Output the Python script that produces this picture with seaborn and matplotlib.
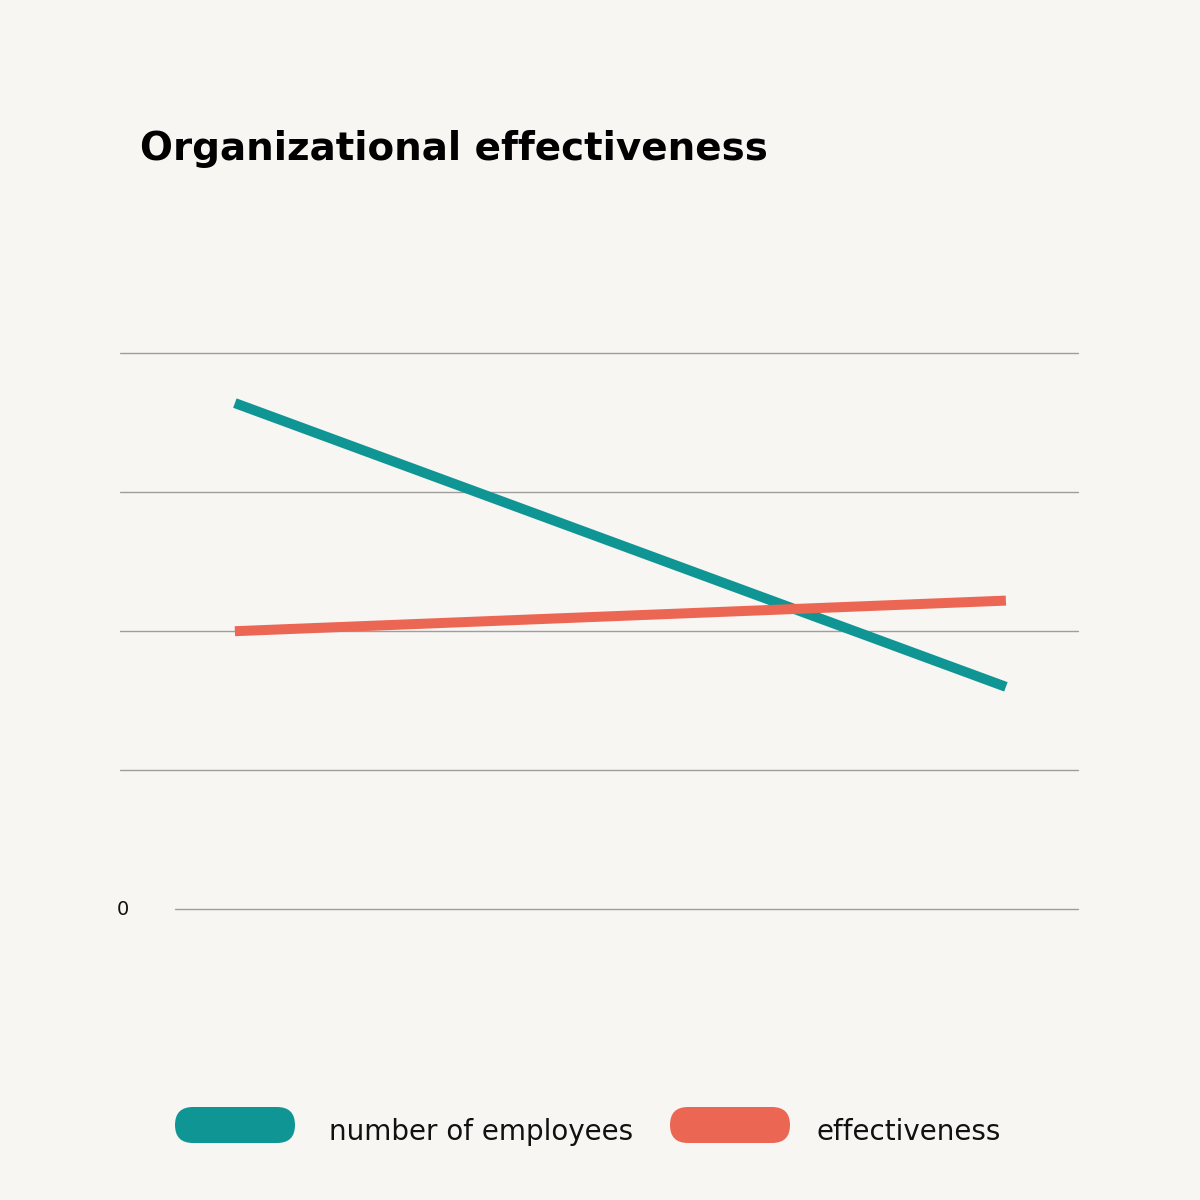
import pandas as pd
import matplotlib.pyplot as plt
import seaborn as sns
from matplotlib.patches import FancyBboxPatch
import matplotlib.transforms as mtransforms

# data
periods = [0, 1]
employees = [3.64, 1.60]
effectiveness = [2.0, 2.22]
series_names = ['number of employees', 'effectiveness']
series_colors = ['#0e9594', '#ec6654']
grid_values = [0, 1, 2, 3, 4]

bg = '#f7f6f3'

df = pd.DataFrame({
    'period': periods * 2,
    'value': employees + effectiveness,
    'series': [series_names[0]] * 2 + [series_names[1]] * 2,
})

sns.set_style('white')
plt.rcParams['font.family'] = ['DejaVu Sans']

fig = plt.figure(figsize=(12, 12), dpi=100, facecolor=bg)
ax = fig.add_axes([0.1, 0.219, 0.798, 0.51])
ax.set_facecolor(bg)

# horizontal guide lines
for v in grid_values:
    xmin = (175 - 120) / 958 if v == 0 else 0
    ax.axhline(v, xmin=xmin, xmax=1, color='#9e9e9e', lw=1, zorder=0, clip_on=False)

sns.lineplot(data=df, x='period', y='value', hue='series', palette=series_colors,
             hue_order=series_names, lw=7.2, legend=False, ax=ax)
for line in ax.lines[len(grid_values):]:
    line.set_solid_capstyle('butt')
    line.set_clip_on(False)

ax.set_xlim(-0.149, 1.093)
ax.set_ylim(-0.2, 4.2)
ax.set_xticks([])
ax.set_yticks([])
ax.set_xlabel('')
ax.set_ylabel('')
for s in ax.spines.values():
    s.set_visible(False)

# zero label
trans = mtransforms.blended_transform_factory(ax.transAxes, ax.transData)
ax.text(0.003, 0, '0', transform=trans, ha='center', va='center', fontsize=14, color='#111111')

# title
fig.text(140 / 1200, 1 - 160 / 1200, 'Organizational effectiveness', fontsize=28,
         fontweight='bold', ha='left', va='baseline', color='black')

# legend pills
pill_x = [175, 670]
text_x = [329, 817]
for name, col, px, tx in zip(series_names, series_colors, pill_x, text_x):
    pill = FancyBboxPatch((px / 1200, 1 - 1143 / 1200), 120 / 1200, 36 / 1200,
                          boxstyle='round,pad=0,rounding_size=0.015',
                          transform=fig.transFigure, facecolor=col, edgecolor='none')
    fig.add_artist(pill)
    fig.text(tx / 1200, 1 - 1140 / 1200, name, fontsize=20, ha='left', va='baseline',
             color='#111111')

fig.savefig('out.png', dpi=100, facecolor=bg)
